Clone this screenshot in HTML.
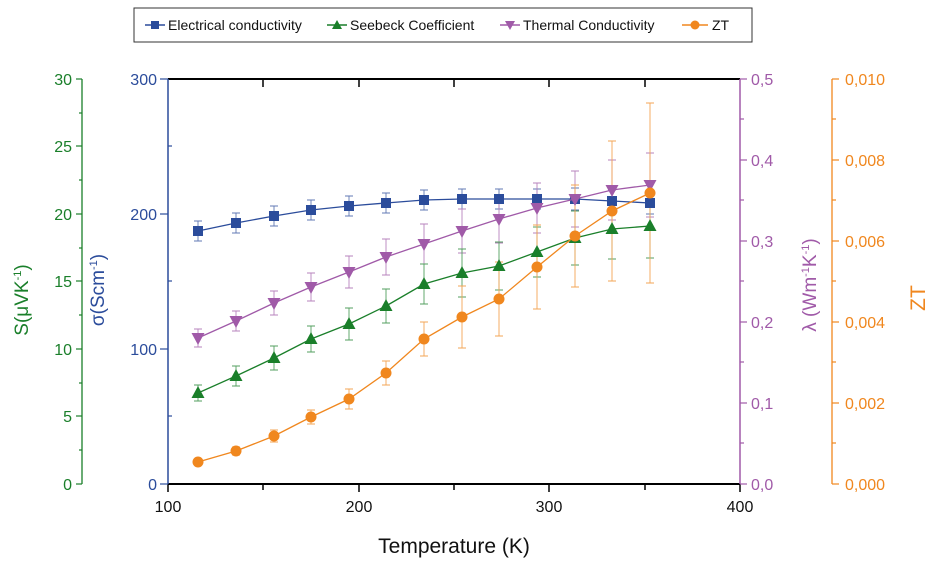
<!DOCTYPE html>
<html><head><meta charset="utf-8"><style>
body{margin:0;background:#fff;}
svg text{font-family:"Liberation Sans",Arial,sans-serif;}
</style></head><body>
<svg width="934" height="566" viewBox="0 0 934 566" xmlns="http://www.w3.org/2000/svg">
<defs>
<marker id="mSq" markerUnits="userSpaceOnUse" markerWidth="12" markerHeight="12" refX="6" refY="6" overflow="visible"><rect x="1" y="1" width="10" height="10" fill="#2b4c9b"/></marker>
<marker id="mUp" markerUnits="userSpaceOnUse" markerWidth="14" markerHeight="14" refX="7" refY="7" overflow="visible"><polygon points="7,0 13.5,12 0.5,12" fill="#1a7f2a"/></marker>
<marker id="mDn" markerUnits="userSpaceOnUse" markerWidth="14" markerHeight="14" refX="7" refY="7" overflow="visible"><polygon points="0.5,2 13.5,2 7,14" fill="#a05aa8"/></marker>
<marker id="mCi" markerUnits="userSpaceOnUse" markerWidth="12" markerHeight="12" refX="6" refY="6" overflow="visible"><circle cx="6" cy="6" r="5.5" fill="#f0871e"/></marker>
</defs>
<!-- legend -->
<rect x="134" y="8" width="618" height="34" fill="#fff" stroke="#333" stroke-width="1"/>
<g font-size="14" fill="#111">
<line x1="145" y1="25" x2="165" y2="25" stroke="#2b4c9b" stroke-width="1.5"/><rect x="151" y="21" width="8" height="8" fill="#2b4c9b"/>
<text x="168" y="30">Electrical conductivity</text>
<line x1="327" y1="25" x2="347" y2="25" stroke="#1a7f2a" stroke-width="1.5"/><polygon points="337,20 342,29 332,29" fill="#1a7f2a"/>
<text x="350" y="30">Seebeck Coefficient</text>
<line x1="500" y1="25" x2="520" y2="25" stroke="#a05aa8" stroke-width="1.5"/><polygon points="505,21 515,21 510,30" fill="#a05aa8"/>
<text x="523" y="30">Thermal Conductivity</text>
<line x1="682" y1="25" x2="708" y2="25" stroke="#f0871e" stroke-width="1.5"/><circle cx="695" cy="25" r="4.5" fill="#f0871e"/>
<text x="712" y="30">ZT</text>
</g>
<!-- plot frame -->
<line x1="168" y1="79" x2="740" y2="79" stroke="#000" stroke-width="2"/>
<line x1="168" y1="484" x2="740" y2="484" stroke="#000" stroke-width="2"/>
<line x1="168" y1="79" x2="168" y2="484" stroke="#2b4c9b" stroke-width="1.5"/>
<line x1="740" y1="79" x2="740" y2="484" stroke="#a05aa8" stroke-width="1.5"/>
<g stroke="#000" stroke-width="1.5">
<line x1="263" y1="79" x2="263" y2="87"/><line x1="359" y1="79" x2="359" y2="87"/><line x1="454" y1="79" x2="454" y2="87"/><line x1="549" y1="79" x2="549" y2="87"/><line x1="645" y1="79" x2="645" y2="87"/>
<line x1="168" y1="484" x2="168" y2="492"/><line x1="263" y1="484" x2="263" y2="490"/><line x1="359" y1="484" x2="359" y2="492"/><line x1="454" y1="484" x2="454" y2="490"/><line x1="549" y1="484" x2="549" y2="492"/><line x1="645" y1="484" x2="645" y2="490"/><line x1="740" y1="484" x2="740" y2="492"/>
</g>
<g font-size="16" fill="#111" text-anchor="middle">
<text x="168" y="512">100</text><text x="359" y="512">200</text><text x="549" y="512">300</text><text x="740" y="512">400</text>
</g>
<text x="454" y="553" font-size="21" text-anchor="middle" fill="#111">Temperature (K)</text>
<!-- blue axis -->
<g stroke="#2b4c9b" stroke-width="1.2">
<line x1="160" y1="79" x2="168" y2="79"/><line x1="160" y1="214" x2="168" y2="214"/><line x1="160" y1="349" x2="168" y2="349"/><line x1="160" y1="484" x2="168" y2="484"/>
<line x1="168" y1="146" x2="172" y2="146"/><line x1="168" y1="281" x2="172" y2="281"/><line x1="168" y1="416" x2="172" y2="416"/>
</g>
<g font-size="16" fill="#2b4c9b" text-anchor="end">
<text x="157" y="85">300</text><text x="157" y="220">200</text><text x="157" y="355">100</text><text x="157" y="490">0</text>
</g>
<text transform="translate(104,290) rotate(-90)" font-size="19" fill="#2b4c9b" text-anchor="middle">σ(Scm<tspan font-size="11" dy="-7">-1</tspan><tspan dy="7">)</tspan></text>
<!-- green axis -->
<line x1="82" y1="79" x2="82" y2="484" stroke="#1a7f2a" stroke-width="1.3"/>
<g stroke="#1a7f2a" stroke-width="1.2">
<line x1="76" y1="79" x2="82" y2="79"/><line x1="76" y1="146" x2="82" y2="146"/><line x1="76" y1="214" x2="82" y2="214"/><line x1="76" y1="281" x2="82" y2="281"/><line x1="76" y1="349" x2="82" y2="349"/><line x1="76" y1="416" x2="82" y2="416"/><line x1="76" y1="484" x2="82" y2="484"/>
<line x1="79" y1="113" x2="82" y2="113"/><line x1="79" y1="180" x2="82" y2="180"/><line x1="79" y1="248" x2="82" y2="248"/><line x1="79" y1="315" x2="82" y2="315"/><line x1="79" y1="383" x2="82" y2="383"/><line x1="79" y1="450" x2="82" y2="450"/>
</g>
<g font-size="16" fill="#1a7f2a" text-anchor="end">
<text x="72" y="85">30</text><text x="72" y="152">25</text><text x="72" y="220">20</text><text x="72" y="287">15</text><text x="72" y="355">10</text><text x="72" y="422">5</text><text x="72" y="490">0</text>
</g>
<text transform="translate(28,300) rotate(-90)" font-size="19" fill="#1a7f2a" text-anchor="middle">S(μVK<tspan font-size="11" dy="-7">-1</tspan><tspan dy="7">)</tspan></text>
<!-- purple axis -->
<g stroke="#a05aa8" stroke-width="1.2">
<line x1="740" y1="79" x2="747" y2="79"/><line x1="740" y1="160" x2="747" y2="160"/><line x1="740" y1="241" x2="747" y2="241"/><line x1="740" y1="322" x2="747" y2="322"/><line x1="740" y1="403" x2="747" y2="403"/><line x1="740" y1="484" x2="747" y2="484"/>
<line x1="740" y1="119" x2="744" y2="119"/><line x1="740" y1="200" x2="744" y2="200"/><line x1="740" y1="281" x2="744" y2="281"/><line x1="740" y1="362" x2="744" y2="362"/><line x1="740" y1="443" x2="744" y2="443"/>
</g>
<g font-size="16" fill="#a05aa8">
<text x="751" y="85">0,5</text><text x="751" y="166">0,4</text><text x="751" y="247">0,3</text><text x="751" y="328">0,2</text><text x="751" y="409">0,1</text><text x="751" y="490">0,0</text>
</g>
<text transform="translate(816,285) rotate(-90)" font-size="19" fill="#a05aa8" text-anchor="middle">λ (Wm<tspan font-size="11" dy="-7">-1</tspan><tspan dy="7">K</tspan><tspan font-size="11" dy="-7">-1</tspan><tspan dy="7">)</tspan></text>
<!-- orange axis -->
<line x1="832" y1="79" x2="832" y2="484" stroke="#f0871e" stroke-width="1.3"/>
<g stroke="#f0871e" stroke-width="1.2">
<line x1="832" y1="79" x2="839" y2="79"/><line x1="832" y1="160" x2="839" y2="160"/><line x1="832" y1="241" x2="839" y2="241"/><line x1="832" y1="322" x2="839" y2="322"/><line x1="832" y1="403" x2="839" y2="403"/><line x1="832" y1="484" x2="839" y2="484"/>
<line x1="832" y1="119" x2="836" y2="119"/><line x1="832" y1="200" x2="836" y2="200"/><line x1="832" y1="281" x2="836" y2="281"/><line x1="832" y1="362" x2="836" y2="362"/><line x1="832" y1="443" x2="836" y2="443"/>
</g>
<g font-size="16" fill="#f0871e">
<text x="845" y="85">0,010</text><text x="845" y="166">0,008</text><text x="845" y="247">0,006</text><text x="845" y="328">0,004</text><text x="845" y="409">0,002</text><text x="845" y="490">0,000</text>
</g>
<text transform="translate(925,298) rotate(-90)" font-size="21" fill="#f0871e" text-anchor="middle">ZT</text>

<!-- error bars -->
<g fill="none" stroke-width="0.9" opacity="0.75">
<path stroke="#2b4c9b" d="M198 221V241M194 221H202M194 241H202 M236 213V233M232 213H240M232 233H240 M274 206V226M270 206H278M270 226H278 M311 200V220M307 200H315M307 220H315 M349 196V216M345 196H353M345 216H353 M386 193V213M382 193H390M382 213H390 M424 190V210M420 190H428M420 210H428 M462 189V209M458 189H466M458 209H466 M499 189V209M495 189H503M495 209H503 M537 189V209M533 189H541M533 209H541 M575 188V210M571 188H579M571 210H579 M612 190V212M608 190H616M608 212H616 M650 192V214M646 192H654M646 214H654"/>
<path stroke="#a05aa8" d="M198 329V347M194 329H202M194 347H202 M236 311V331M232 311H240M232 331H240 M274 291V315M270 291H278M270 315H278 M311 273V301M307 273H315M307 301H315 M349 256V288M345 256H353M345 288H353 M386 239V275M382 239H390M382 275H390 M424 224V264M420 224H428M420 264H428 M462 209V253M458 209H466M458 253H466 M499 195V243M495 195H503M495 243H503 M537 183V233M533 183H541M533 233H541 M575 171V227M571 171H579M571 227H579 M612 160V220M608 160H616M608 220H616 M650 153V217M646 153H654M646 217H654"/>
<path stroke="#1a7f2a" d="M198 385V401M194 385H202M194 401H202 M236 366V386M232 366H240M232 386H240 M274 346V370M270 346H278M270 370H278 M311 326V352M307 326H315M307 352H315 M349 308V340M345 308H353M345 340H353 M386 289V323M382 289H390M382 323H390 M424 264V304M420 264H428M420 304H428 M462 249V297M458 249H466M458 297H466 M499 242V290M495 242H503M495 290H503 M537 227V277M533 227H541M533 277H541 M575 211V265M571 211H579M571 265H579 M612 199V259M608 199H616M608 259H616 M650 194V258M646 194H654M646 258H654"/>
<path stroke="#f0871e" d="M198 459V465M194 459H202M194 465H202 M236 447V455M232 447H240M232 455H240 M274 430V442M270 430H278M270 442H278 M311 410V424M307 410H315M307 424H315 M349 389V409M345 389H353M345 409H353 M386 361V385M382 361H390M382 385H390 M424 322V356M420 322H428M420 356H428 M462 286V348M458 286H466M458 348H466 M499 262V336M495 262H503M495 336H503 M537 225V309M533 225H541M533 309H541 M575 185V287M571 185H579M571 287H579 M612 141V281M608 141H616M608 281H616 M650 103V283M646 103H654M646 283H654"/>
</g>
<!-- series -->
<g fill="none" stroke-width="1.3">
<polyline stroke="#2b4c9b" marker-start="url(#mSq)" marker-mid="url(#mSq)" marker-end="url(#mSq)" points="198,231 236,223 274,216 311,210 349,206 386,203 424,200 462,199 499,199 537,199 575,199 612,201 650,203"/>
<polyline stroke="#a05aa8" marker-start="url(#mDn)" marker-mid="url(#mDn)" marker-end="url(#mDn)" points="198,338 236,321 274,303 311,287 349,272 386,257 424,244 462,231 499,219 537,208 575,199 612,190 650,185"/>
<polyline stroke="#1a7f2a" marker-start="url(#mUp)" marker-mid="url(#mUp)" marker-end="url(#mUp)" points="198,393 236,376 274,358 311,339 349,324 386,306 424,284 462,273 499,266 537,252 575,238 612,229 650,226"/>
<polyline stroke="#f0871e" marker-start="url(#mCi)" marker-mid="url(#mCi)" marker-end="url(#mCi)" points="198,462 236,451 274,436 311,417 349,399 386,373 424,339 462,317 499,299 537,267 575,236 612,211 650,193"/>
</g>
</svg>
</body></html>
